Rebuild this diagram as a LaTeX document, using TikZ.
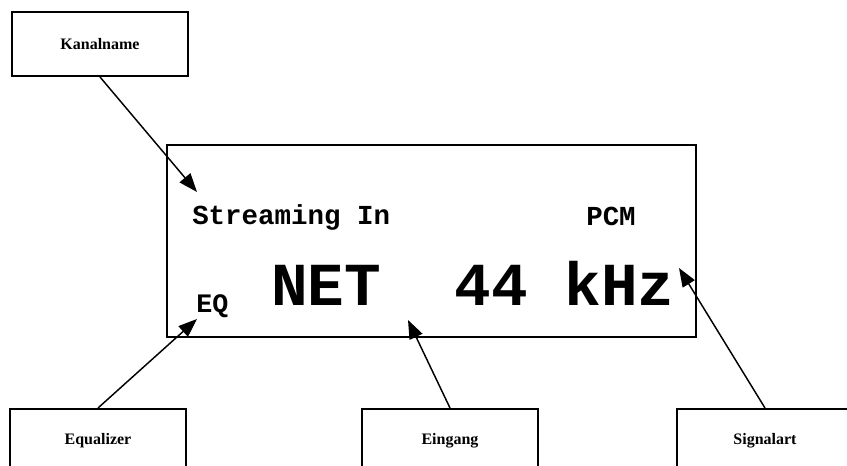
\documentclass[tikz,border=0pt]{standalone}
\usepackage{fontspec}
\setmainfont{Liberation Serif}
\newfontfamily\lcdfont{Liberation Mono}
\usepackage{tikz}
\usetikzlibrary{arrows.meta,positioning,calc}

\tikzset{
  labelbox/.style={draw=black,line width=1.5pt,minimum width=132pt,minimum height=48pt,
    inner sep=0pt,font=\bfseries\fontsize{12}{14}\selectfont},
  pointer/.style={line width=1.1pt,-{Triangle[length=14pt,width=10.5pt]}},
  lcdsmall/.style={anchor=base west,inner sep=0pt,font=\lcdfont\bfseries\fontsize{20.6}{24}\selectfont},
  lcdbig/.style={anchor=base west,inner sep=0pt,font=\lcdfont\bfseries\fontsize{45.8}{50}\selectfont}
}

\begin{document}
\begin{tikzpicture}[x=0.75pt,y=-0.75pt]
    \useasboundingbox (0,0) rectangle (847,465);
    \clip (0,0) rectangle (847,465);
    % display
    \node[draw=black,line width=1.5pt,minimum width=396.75pt,minimum height=144pt,inner sep=0pt]
      (display) at (431.5,241) {};
    \node[lcdsmall] (chan) at (192,224) {Streaming In};
    \node[lcdsmall] (pcm) at (586,225) {PCM};
    \node[lcdsmall,font=\lcdfont\bfseries\fontsize{20}{22}\selectfont] (eqtxt) at (196,312) {EQ};
    \node[lcdbig] (main) at (271,305) {NET\ \ 44\ kHz};
    % callouts
    \node[labelbox] (kanal) at (100,44) {Kanalname};
    \coordinate (kanaltip) at (197,192);
    \draw[pointer] (kanal.south) -- (kanaltip);
    \foreach \nm/\x/\lbl/\tx/\ty in {
      eq/98/Equalizer/197/319,
      ein/450/Eingang/408/320,
      sig/765/Signalart/679/268}{
      \node[labelbox] (\nm) at (\x,441) {\lbl};
      \coordinate (\nm tip) at (\tx,\ty);
      \draw[pointer] (\nm.north) -- (\nm tip);
    }
  \end{tikzpicture}
\end{document}
